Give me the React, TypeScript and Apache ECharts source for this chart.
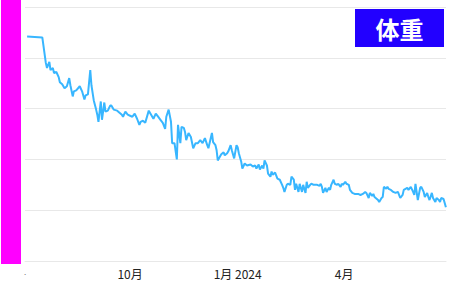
import React, { useEffect, useRef } from 'react';
import * as echarts from 'echarts';

const START = '2023-07-01';
// days since START
const dayOffsets = [
  4, 17, 20, 21, 23, 24, 26, 27, 29, 31, 32, 34, 36, 38, 40, 41, 43, 44, 46, 49,
  51, 53, 54, 56, 58, 59, 61, 63, 64, 65, 67, 68, 70, 71, 73,
  75, 76, 78, 81, 83, 85, 86, 88, 90, 92, 94, 96, 98, 100, 101, 103, 105, 108, 110, 112,
  114, 116, 118, 120, 122, 123, 125, 127, 128, 130, 132, 133, 135, 136, 138, 139, 140, 142, 144, 146,
  148, 150, 152, 154, 156, 158, 159,
  162, 163, 165, 166, 167, 169, 170, 172, 173, 175, 176, 178, 179, 181, 183, 184, 185, 187, 188, 190,
  192, 195, 197, 199, 200, 202, 203, 205, 206, 207, 209, 210, 212, 213, 214, 216, 218, 220, 222, 223,
  224, 226, 227,
  229, 230, 232, 233, 234, 236, 237, 239, 240, 242, 243, 244, 246, 247, 249, 252, 254, 255, 256, 257,
  259, 260, 262, 263, 264, 266, 267, 269, 270, 272, 273, 274, 276, 277, 279, 280, 282, 284, 287, 289,
  291,
  293, 294, 296, 297, 299, 300, 301, 304, 305, 307, 308, 309, 311, 312, 313, 315, 317, 319, 321, 323,
  325, 326, 329, 330, 332, 334, 335, 336, 337, 338, 340, 341, 343, 344, 346, 347, 348, 350, 351, 353,
  354, 356, 357, 358, 360, 361, 362,
];
const weights = [
  77.1, 77.0, 74.5, 74.0, 74.6, 73.8, 74.0, 73.5, 73.6, 73.1, 72.6, 72.4, 72.0, 72.2, 73.0, 72.3, 71.2, 71.7, 71.8, 72.2,
  71.7, 70.9, 71.3, 71.4, 73.8, 72.3, 70.8, 69.9, 69.4, 68.7, 70.7, 68.9, 70.6, 69.7, 69.8,
  70.3, 70.3, 69.9, 69.8, 69.6, 69.4, 69.2, 69.7, 69.4, 69.3, 69.2, 69.5, 69.0, 68.4, 68.7, 68.8, 68.6, 69.8, 69.4, 69.0,
  69.5, 69.2, 68.9, 68.6, 68.0, 69.2, 69.9, 68.7, 66.6, 66.6, 65.0, 68.4, 66.6, 68.2, 68.1, 67.7, 66.9, 67.6, 67.2, 66.1,
  66.6, 66.6, 66.9, 66.6, 67.1, 66.4, 66.1,
  67.6, 66.7, 66.4, 65.9, 64.9, 65.3, 65.5, 65.7, 65.4, 65.6, 65.8, 66.4, 65.9, 65.1, 66.4, 66.2, 65.6, 64.8, 64.1, 64.6,
  64.4, 64.5, 64.3, 64.4, 64.1, 64.5, 64.0, 64.4, 64.1, 64.9, 64.4, 63.6, 63.3, 63.8, 63.5, 63.7, 63.1, 63.0, 62.5, 62.2,
  61.8, 62.5, 62.6,
  62.5, 63.3, 63.0, 62.0, 62.6, 61.8, 62.6, 61.8, 62.5, 61.7, 62.8, 62.2, 62.5, 62.6, 62.5, 62.5, 62.4, 62.6, 62.3, 61.7,
  62.2, 61.8, 62.2, 62.0, 62.5, 63.0, 62.6, 62.5, 62.6, 62.3, 62.6, 62.5, 62.8, 62.6, 62.5, 62.0, 61.7, 61.6, 61.6, 61.5,
  61.6,
  61.8, 61.7, 61.2, 61.7, 61.4, 61.6, 61.3, 61.0, 60.8, 61.2, 61.3, 62.3, 62.1, 62.3, 62.1, 62.0, 61.8, 61.7, 61.8, 61.2,
  61.5, 62.0, 62.2, 62.0, 62.3, 61.8, 61.5, 62.6, 61.8, 61.0, 62.2, 62.3, 61.8, 61.3, 61.7, 61.3, 61.0, 61.7, 61.2, 60.8,
  61.2, 61.0, 60.8, 61.2, 61.1, 60.7, 60.3,
];
const tickDates = ['2023-10-01', '2024-01-01', '2024-04-01'];
const tickLabels = ['10月', '1月 2024', '4月'];
const firstLabel = '.';
const title = '体重';

export default function App() {
  const ref = useRef<HTMLDivElement>(null);
  useEffect(() => {
    document.body.style.margin = '0';
    const chart = echarts.init(ref.current!, null, { renderer: 'svg' });
    const DAY = 86400000;
    const t0 = Date.parse(START + 'T00:00:00Z');
    const data = dayOffsets.map((d, i) => [d, weights[i]]);
    const tickDays = tickDates.map((s) => Math.round((Date.parse(s + 'T00:00:00Z') - t0) / DAY));
    const xMin = 2.2;
    const xMax = 362.1;
    chart.setOption({
      animation: false,
      grid: { left: 25, right: 4, top: 7, bottom: 22, containLabel: false },
      xAxis: {
        type: 'value',
        min: xMin,
        max: xMax,
        axisLine: { show: true, lineStyle: { color: '#e8e8e8' } },
        axisTick: { show: false },
        splitLine: { show: false },
        axisLabel: {
          customValues: [xMin, ...tickDays],
          formatter: (v: number) => {
            if (Math.abs(v - xMin) < 0.5) return '{d|' + firstLabel + '}';
            for (let i = 0; i < tickDays.length; i++) {
              if (Math.abs(v - tickDays[i]) < 0.5) return tickLabels[i];
            }
            return '';
          },
          color: '#222',
          fontSize: 12,
          margin: 6,
          fontFamily: '"Noto Sans CJK JP", sans-serif',
          hideOverlap: false,
          showMinLabel: true,
          showMaxLabel: true,
          rich: { d: { fontSize: 8, color: '#777', padding: [0, 0, 10, 0] } },
        },
      },
      yAxis: {
        type: 'value',
        min: 55,
        max: 80,
        interval: 5,
        axisLabel: { show: false },
        axisLine: { show: false },
        axisTick: { show: false },
        splitLine: { lineStyle: { color: '#e8e8e8', width: 1 } },
      },
      series: [
        {
          type: 'line',
          data,
          symbol: 'none',
          showSymbol: false,
          lineStyle: { color: '#38b6ff', width: 2 },
          itemStyle: { color: '#38b6ff' },
        },
      ],
      graphic: [
        { type: 'rect', shape: { x: 1, y: 0, width: 20, height: 264 }, style: { fill: '#ff00ff' } },
        { type: 'rect', shape: { x: 355, y: 9, width: 89, height: 38 }, style: { fill: '#2200ff' } },
        {
          type: 'text',
          x: 399.5,
          y: 28,
          style: {
            text: title,
            fill: '#ffffff',
            fontSize: 24,
            fontWeight: 'bold',
            align: 'center',
            verticalAlign: 'middle',
            fontFamily: '"Noto Sans CJK JP", sans-serif',
          },
        },
      ],
    });
    return () => chart.dispose();
  }, []);
  return <div ref={ref} style={{ width: 450, height: 283 }} />;
}
